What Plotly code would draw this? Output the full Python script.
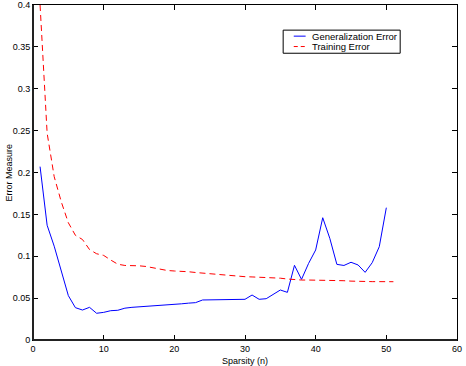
import plotly.graph_objects as go

gen_x = list(range(1, 51))
gen_err = [0.207, 0.137, 0.112, 0.083, 0.053, 0.0386, 0.0358, 0.039, 0.0319, 0.033,
           0.035, 0.0355, 0.038, 0.039, 0.0395, 0.0405, 0.041, 0.0415, 0.042, 0.0426,
           0.0432, 0.044, 0.0446, 0.0478, 0.048, 0.048, 0.0485, 0.0487, 0.0488, 0.0486,
           0.0537, 0.0486, 0.0493, 0.0545, 0.0597, 0.0569, 0.0892, 0.0724, 0.0915, 0.1075,
           0.146, 0.1214, 0.0903, 0.089, 0.0928, 0.0896, 0.0808, 0.0923, 0.1114, 0.158]

train_x = list(range(1, 52))
train_err = [0.40, 0.247, 0.195, 0.165, 0.14, 0.125, 0.12, 0.108, 0.103, 0.101,
             0.0955, 0.0905, 0.089, 0.089, 0.0886, 0.0878, 0.0862, 0.085, 0.083, 0.0824,
             0.0822, 0.0815, 0.0806, 0.0798, 0.0792, 0.0786, 0.0775, 0.0764, 0.076, 0.0756,
             0.0753, 0.075, 0.0748, 0.0745, 0.0738, 0.0728, 0.0718, 0.0716, 0.0716, 0.0716,
             0.0715, 0.0712, 0.071, 0.0708, 0.0703, 0.0698, 0.0697, 0.0697, 0.0697, 0.0697, 0.0696]

legend_labels = ["Generalization Error", "Training Error"]
x_title = "Sparsity (n)"
y_title = "Error Measure"
font = "Liberation Sans, Arial, Helvetica, sans-serif"

fig = go.Figure()
fig.add_trace(go.Scatter(x=gen_x, y=gen_err, mode="lines", name=legend_labels[0],
                         line=dict(color="#0000ff", width=1), showlegend=False))
fig.add_trace(go.Scatter(x=train_x, y=train_err, mode="lines", name=legend_labels[1],
                         line=dict(color="#ff0000", width=1, dash="6px,4px"), showlegend=False))

# manual MATLAB-style legend
lx0, lx1, ly0, ly1 = 0.590, 0.866, 0.856, 0.925
fig.add_shape(type="rect", xref="paper", yref="paper", x0=lx0, x1=lx1, y0=ly0, y1=ly1,
              line=dict(color="black", width=1), fillcolor="white")
rows = [0.907, 0.876]
styles = [dict(color="#0000ff", width=1), dict(color="#ff0000", width=1, dash="4px,3px")]
for lab, yy, st in zip(legend_labels, rows, styles):
    fig.add_shape(type="line", xref="paper", yref="paper", x0=0.615, x1=0.643, y0=yy, y1=yy, line=st)
    fig.add_annotation(xref="paper", yref="paper", x=0.653, y=yy, text=lab, showarrow=False,
                       xanchor="left", yanchor="middle", font=dict(size=9.5, color="black", family=font))

# heavier left/bottom axis lines
for x0, x1, y0, y1 in [(0, 0, 0, 1), (0, 1, 0, 0)]:
    fig.add_shape(type="line", xref="paper", yref="paper", x0=x0, x1=x1, y0=y0, y1=y1,
                  line=dict(color="#222222", width=2))

# axis titles
fig.add_annotation(xref="paper", yref="paper", x=0.5, y=0, yshift=-21, text=x_title, showarrow=False,
                   xanchor="center", yanchor="middle", font=dict(size=9, color="black", family=font))
fig.add_annotation(xref="paper", yref="paper", x=0, xshift=-25, y=0.5, text=y_title, showarrow=False,
                   textangle=-90, xanchor="center", yanchor="middle",
                   font=dict(size=9, color="black", family=font))

axis_common = dict(showgrid=False, zeroline=False, showline=True, linecolor="black", linewidth=1,
                   mirror="allticks", ticks="inside", ticklen=5, tickcolor="black", automargin=False,
                   tickfont=dict(size=9, color="black", family=font))
fig.update_xaxes(range=[0, 60], dtick=10, tick0=0, **axis_common)
fig.update_yaxes(range=[0, 0.4], dtick=0.05, tick0=0, **axis_common)
fig.update_layout(width=466, height=366, margin=dict(l=33, r=9, t=5, b=26),
                  plot_bgcolor="white", paper_bgcolor="white", font=dict(family=font))
fig.write_html("out.html")
